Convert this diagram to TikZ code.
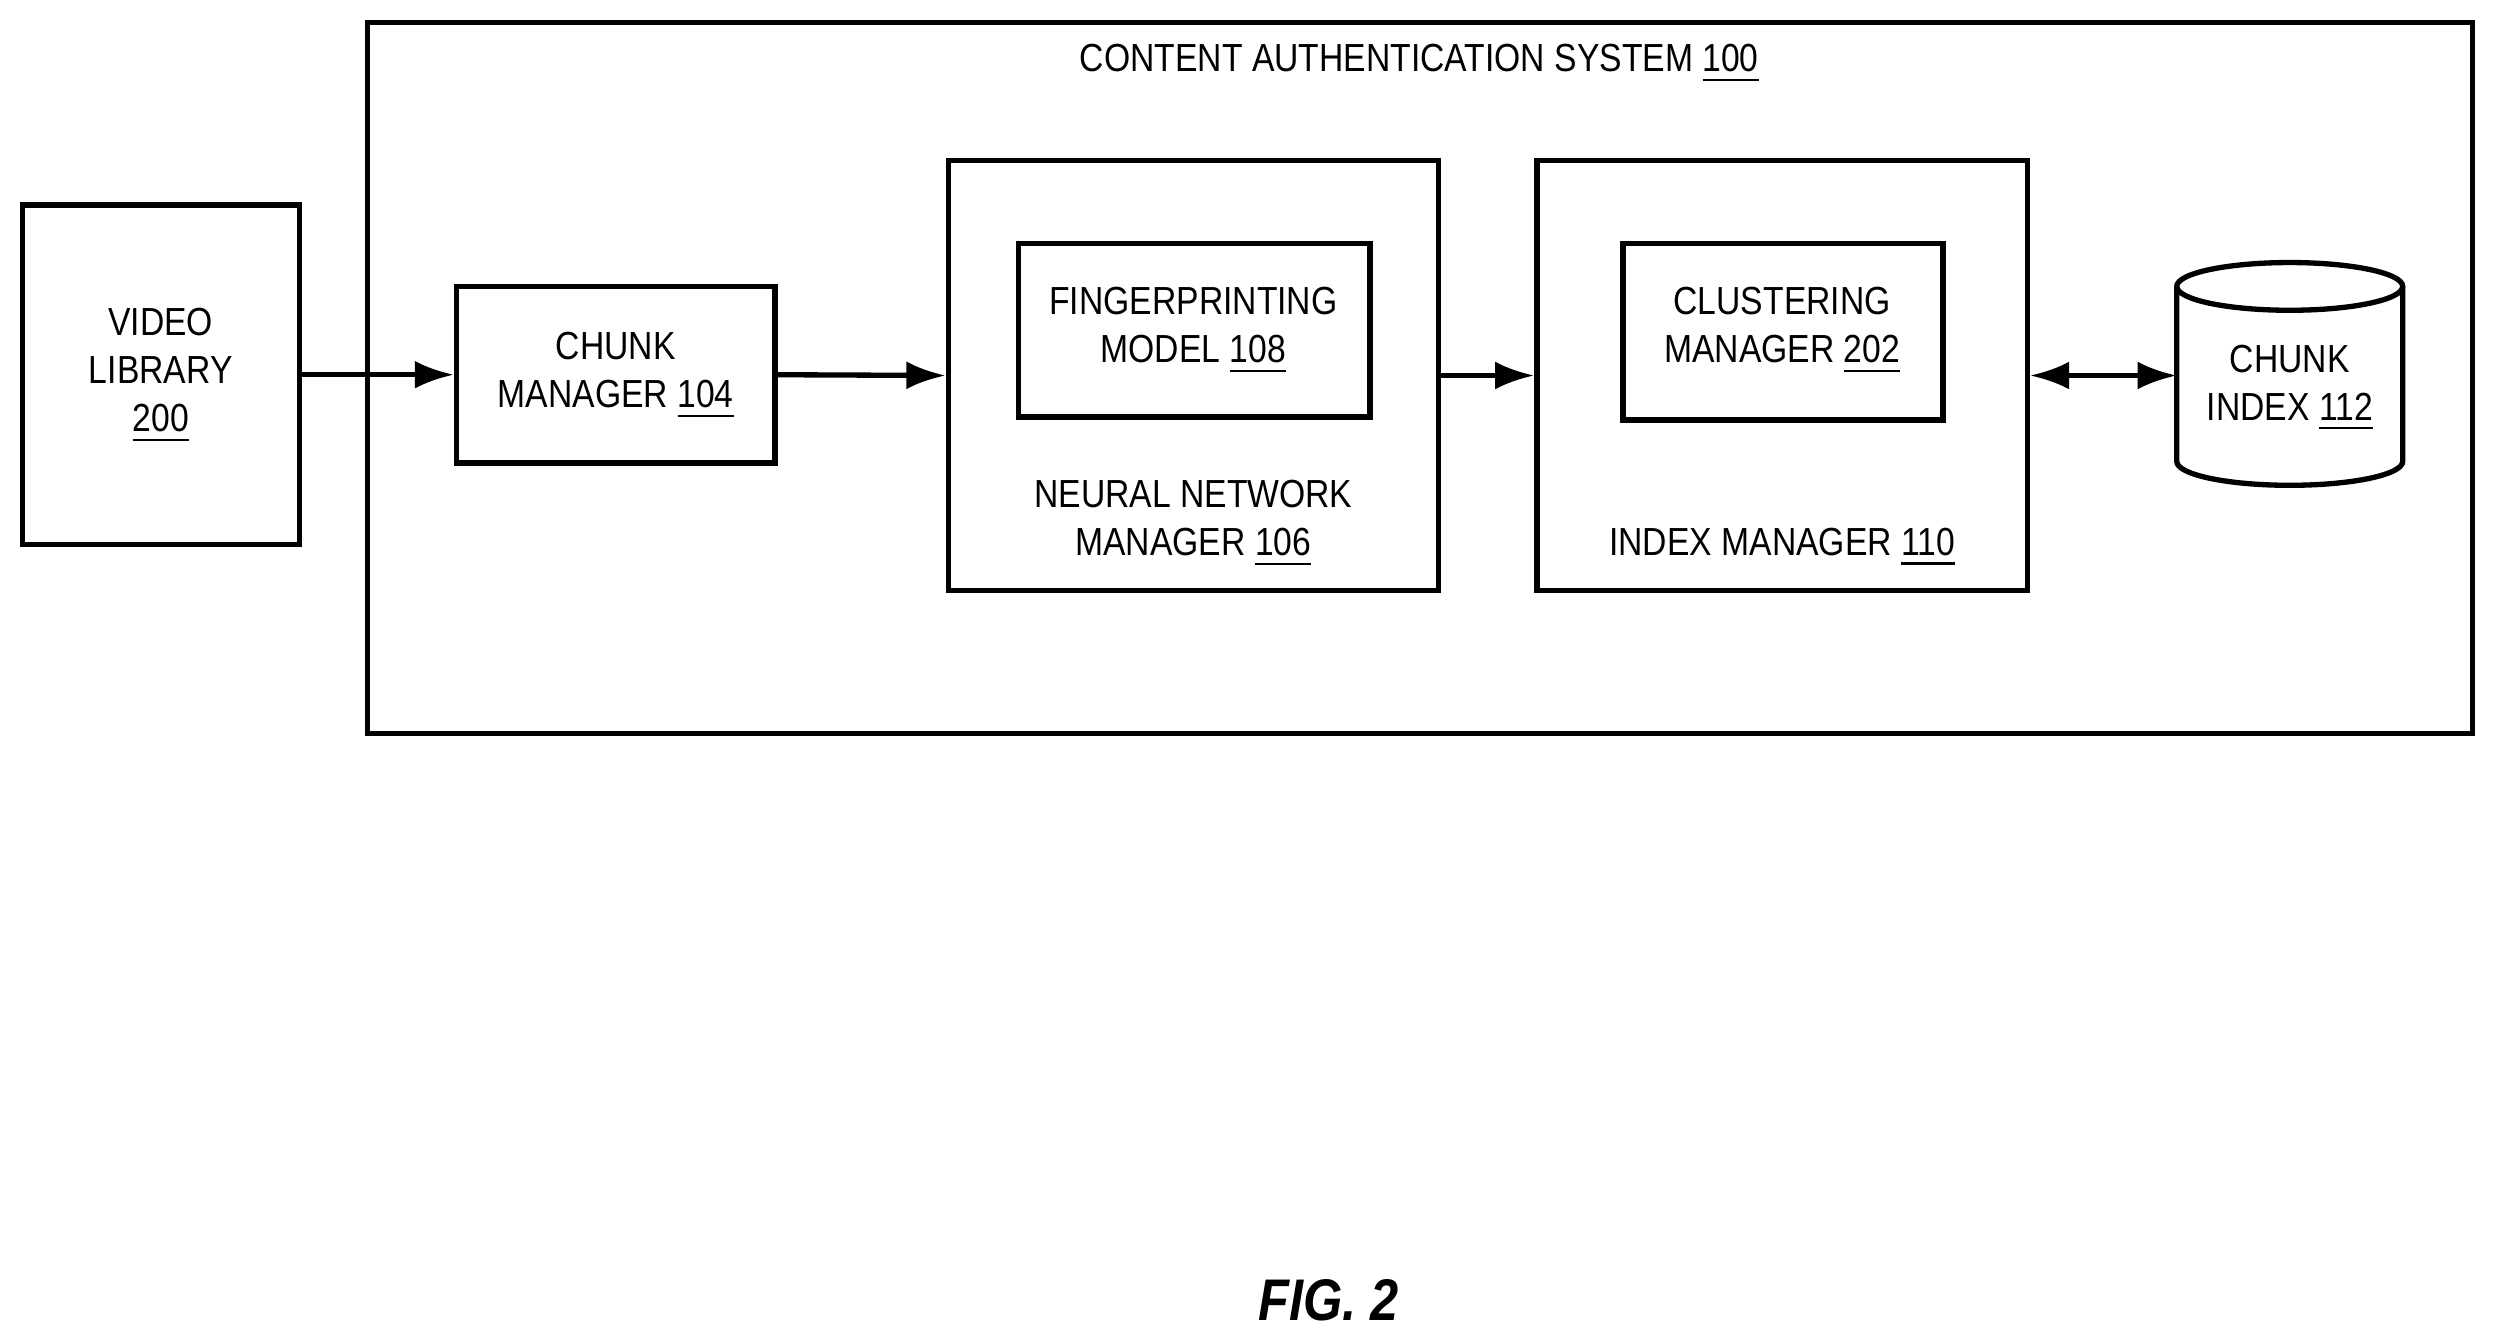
\documentclass[tikz,border=0pt]{standalone}
\usepackage{fontspec}
\setmainfont{Liberation Sans}[FakeStretch=0.86]
\usetikzlibrary{arrows.meta}
\begin{document}
\begin{tikzpicture}[x=0.01cm,y=-0.01cm,
  box/.style={draw,line width=0.95pt,inner sep=0pt},
  lbl/.style={font=\fontsize{7pt}{8.6pt}\selectfont,align=center,inner sep=0pt},
  arr/.style={line width=0.95pt,-{Latex[length=7pt,width=5pt]}},
  darr/.style={line width=0.95pt,{Latex[length=7pt,width=5pt]}-{Latex[length=7pt,width=5pt]}}]
\useasboundingbox (0,0) rectangle (1568,843);
\draw[box] (231,14) rectangle (1554,461);
\node[lbl] (title) at (892,40) {CONTENT AUTHENTICATION SYSTEM \underline{100}};
\node[box,minimum width=1.74cm,minimum height=2.13cm] (vl) at (101,235.5) {};
\node[lbl] at (101,236) {VIDEO\\LIBRARY\\\underline{200}};
\node[box,minimum width=2.0cm,minimum height=1.11cm] (cm) at (387,235.5) {};
\node[lbl] at (387,236) {CHUNK\\MANAGER \underline{104}};
\node[box,minimum width=3.08cm,minimum height=2.7cm] (nn) at (750,236) {};
\node[box,minimum width=2.21cm,minimum height=1.09cm] (fp) at (750.5,207.5) {};
\node[lbl] at (750,208) {FINGERPRINTING\\MODEL \underline{108}};
\node[lbl] at (750,329) {NEURAL NETWORK\\MANAGER \underline{106}};
\node[box,minimum width=3.08cm,minimum height=2.7cm] (im) at (1120,236) {};
\node[box,minimum width=2.01cm,minimum height=1.11cm] (cl) at (1120.5,208.5) {};
\node[lbl] at (1120,208) {CLUSTERING\\MANAGER \underline{202}};
\node[lbl] at (1120,344) {INDEX MANAGER \underline{110}};
\draw[line width=0.95pt] (1439,180) ellipse [x radius=71, y radius=15];
\draw[line width=0.95pt] (1368,180) -- (1368,290) arc[start angle=180,end angle=0,x radius=71,y radius=15] -- (1510,180);
\coordinate (ci) at (1368,236);
\node[lbl] at (1439,244) {CHUNK\\INDEX \underline{112}};
\draw[arr] (vl.east) -- (cm.west);
\draw[arr] (cm.east) -- (nn.west);
\draw[arr] (nn.east) -- (im.west);
\draw[darr] (im.east) -- (ci);
\node[font=\fontsize{10.5pt}{12pt}\selectfont\bfseries\itshape,inner sep=0pt] (fig) at (835,817) {FIG. 2};
\end{tikzpicture}
\end{document}
